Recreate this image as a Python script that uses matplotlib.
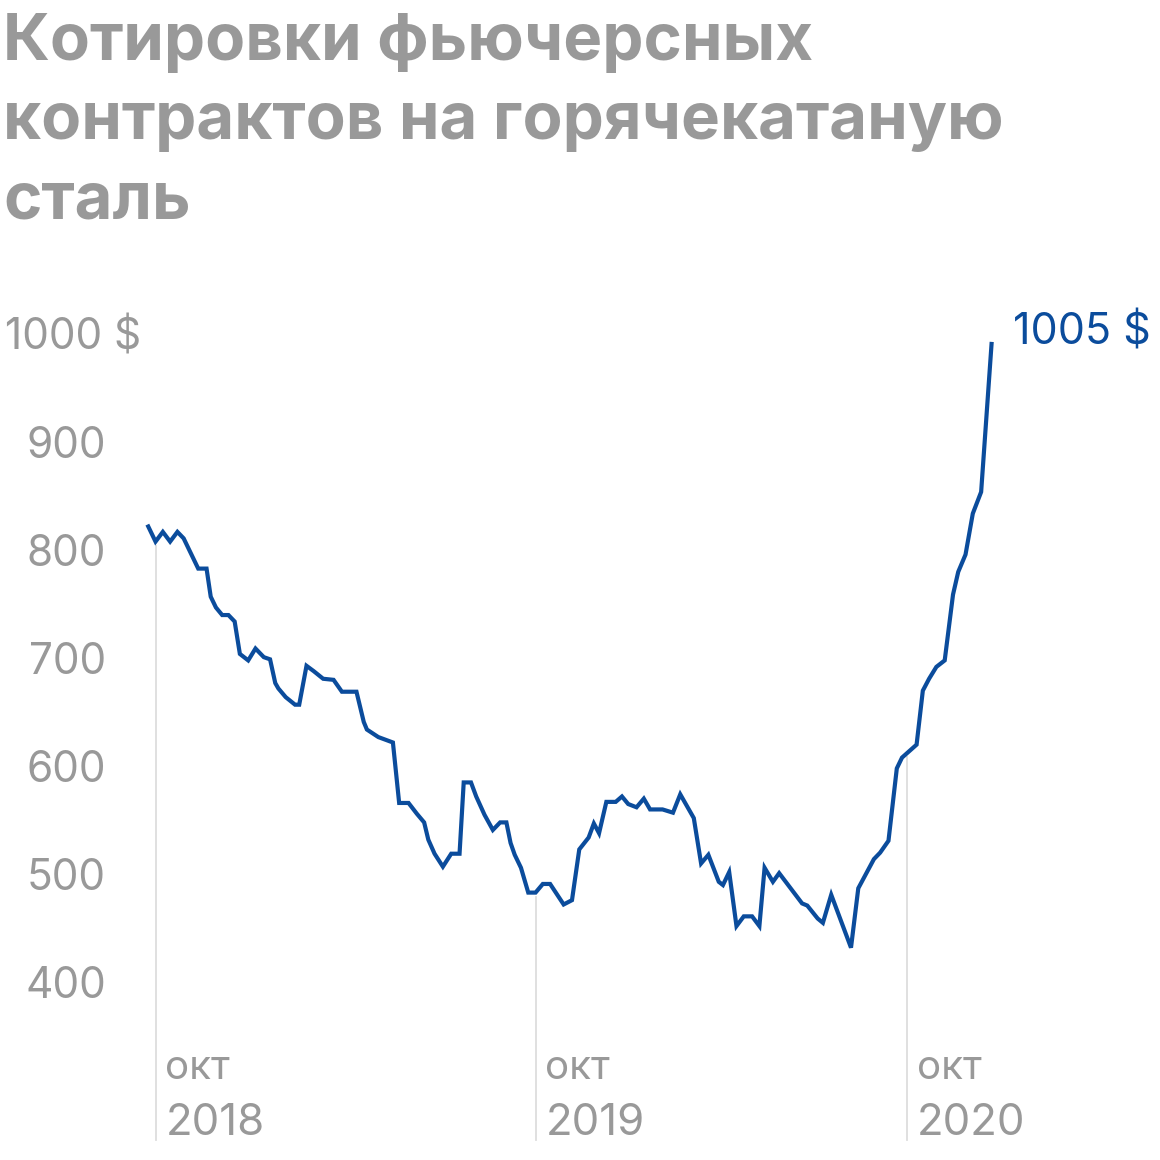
import numpy as np
import matplotlib
matplotlib.use("Agg")
import matplotlib.pyplot as plt
import matplotlib.transforms as mtransforms

# дни от 1 октября 2018 и цена, $ за тонну
days = [-7, 0, 7, 14, 21, 27, 33, 41, 49, 53, 58, 64, 70, 76, 81, 89, 96, 104, 110,
        115, 118, 125, 134, 138, 145, 152, 161, 171, 179, 193, 200, 203, 214, 228,
        234, 243, 251, 258, 262, 268, 276, 284, 292, 296, 303, 308, 316, 324, 331,
        337, 341, 345, 351, 358, 365, 372, 379, 392, 400, 407, 416, 421, 426, 433,
        442, 448, 454, 462, 469, 475, 487, 497, 504, 517, 524, 531, 541, 545, 551,
        558, 565, 573, 580, 585, 593, 599, 621, 626, 636, 641, 649, 668, 675, 680,
        690, 696, 704, 712, 717, 731, 737, 743, 750, 758, 766, 771, 778, 785, 793,
        803]
price = [836, 822, 831, 822, 831, 825, 813, 797, 797, 771, 761, 754, 754, 748, 718,
         712, 723, 715, 713, 691, 686, 678, 671, 671, 707, 702, 695, 694, 683, 683,
         655, 648, 641, 636, 580, 580, 570, 562, 546, 533, 521, 533, 533, 599, 599,
         586, 569, 555, 562, 562, 543, 532, 520, 497, 497, 505, 505, 486, 490, 537,
         548, 561, 552, 581, 581, 586, 579, 576, 584, 574, 574, 571, 588, 566, 524,
         532, 507, 504, 516, 466, 475, 475, 466, 520, 507, 515, 487, 485, 473, 469,
         495, 446, 501, 510, 528, 534, 545, 612, 622, 634, 684, 695, 706, 712, 773,
         794, 810, 848, 868, 1005]

y_ticks = [400, 500, 600, 700, 800, 900, 1000]
grid_days = [0, 365, 722]
grid_months = ["окт", "окт", "окт"]
grid_years = ["2018", "2019", "2020"]

title = "Котировки фьючерсных\nконтрактов на горячекатаную\nсталь"

blue = "#0b4c9c"
gray = "#999999"
plt.rcParams["font.family"] = ["Inter", "DejaVu Sans"]

fig = plt.figure(figsize=(11.6, 11.6), dpi=100)
ax = fig.add_axes([0, 0, 1, 1])
ax.set_xlim(-149.4, 964.8)
ax.set_ylim(249.4, 1323.5)
ax.axis("off")

def px_to_day(px):
    return (px - 155.5) * 0.9605

bottom = 1005 - (1140 - 344) / 1.08

# вертикальные линии октября
for d, m, y in zip(grid_days, grid_months, grid_years):
    top = np.interp(d, days, price)
    ax.plot([d, d], [bottom, top - 4], color="#dddddd", lw=1.3, zorder=1)
    ax.text(d + 9.5, 1005 - (1069 - 344) / 1.08, m, color=gray, fontsize=29,
            ha="left", va="center")
    ax.text(d + 9.5, 1005 - (1124 - 344) / 1.08, y, color=gray, fontsize=31.5,
            ha="left", va="center")

ax.plot(days, price, color=blue, lw=3, solid_joinstyle="miter", zorder=3)

# подписи оси Y (немного выше значения)
lift = mtransforms.offset_copy(ax.transData, fig=fig, x=0, y=11, units="dots")
for v in y_ticks:
    if v == 1000:
        ax.text(px_to_day(5), v, "1000 $", color=gray, fontsize=30.5,
                ha="left", va="center", transform=lift)
    else:
        ax.text(px_to_day(106), v, str(v), color=gray, fontsize=30.5,
                ha="right", va="center", transform=lift)

ax.text(days[-1] + 21, price[-1], f"{price[-1]} $", color=blue, fontsize=31,
        ha="left", va="center", transform=lift)

fig.text(3 / 1160, 1 - 13 / 1160, title, color=gray, fontsize=47,
         fontweight="bold", ha="left", va="top", linespacing=1.41)

fig.savefig("out.png", dpi=100)
